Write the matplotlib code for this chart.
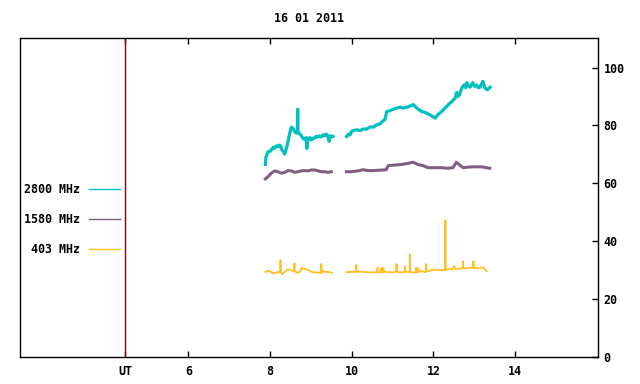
import matplotlib
matplotlib.use("Agg")
import matplotlib.pyplot as plt
import numpy as np

plt.rcParams['font.family'] = ['DejaVu Sans Mono']
plt.rcParams['font.weight'] = 'bold'
plt.rcParams['font.size'] = 8.4

TITLE = "16 01 2011"
UT_POS = 4.46
X_TICKS = [6, 8, 10, 12, 14]
Y_TICKS = [0, 20, 40, 60, 80, 100]
nan = np.nan

# 2800 MHz (hours UT / flux)
t2800 = [7.886, 7.900, 7.952, 8.000, 8.033, 8.080, 8.115, 8.160, 8.196, 8.237, 8.270, 8.294,
         8.330, 8.360, 8.401, 8.441, 8.482, 8.523, 8.564, 8.605, 8.645, 8.672, 8.678, 8.684,
         8.703, 8.740, 8.768, 8.810, 8.849, 8.890, 8.900, 8.931, 8.970, 9.013, 9.050, 9.094,
         9.130, 9.176, 9.210, 9.257, 9.300, 9.339, 9.380, 9.421, 9.450, 9.470, 9.502, 9.543,
         nan,
         9.878, 9.920, 9.959, 10.000, 10.041, 10.120, 10.204, 10.290, 10.367, 10.450, 10.531,
         10.610, 10.694, 10.760, 10.816, 10.857, 10.939, 11.020, 11.100, 11.184, 11.260, 11.347,
         11.428, 11.510, 11.592, 11.650, 11.714, 11.780, 11.837, 11.900, 11.959, 12.041, 12.122,
         12.204, 12.286, 12.367, 12.449, 12.530, 12.571, 12.600, 12.637, 12.694, 12.751, 12.790,
         12.816, 12.860, 12.898, 12.963, 13.010, 13.061, 13.100, 13.142, 13.208, 13.265, 13.322,
         13.387]
f2800 = [66.5, 69.0, 70.9, 71.0, 71.5, 72.5, 72.1, 73.0, 72.7, 73.2, 72.5, 71.5,
         71.0, 70.1, 72.1, 74.4, 77.3, 79.4, 79.0, 77.9, 77.3, 78.0, 85.6, 78.0,
         77.3, 77.0, 76.4, 75.5, 75.2, 75.8, 72.0, 75.0, 75.8, 75.0, 75.6, 75.6,
         76.2, 76.0, 76.4, 76.0, 76.8, 76.4, 77.0, 76.2, 74.5, 76.5, 76.0, 76.2,
         nan,
         76.2, 77.0, 76.7, 78.0, 78.2, 78.5, 78.2, 78.8, 78.7, 79.5, 79.4,
         80.2, 80.5, 81.5, 82.1, 84.8, 85.1, 85.6, 86.0, 86.3, 86.0, 86.3,
         86.7, 87.2, 86.0, 85.4, 84.8, 84.6, 84.2, 83.8, 83.3, 82.5, 83.9,
         84.8, 86.0, 87.2, 88.2, 89.4, 91.4, 90.0, 90.6, 92.9, 94.0, 93.0,
         94.8, 93.5, 93.2, 94.8, 93.5, 94.0, 93.0, 93.2, 95.2, 92.9, 92.3,
         93.2]

# 1580 MHz
t1580 = [7.886, 7.952, 8.033, 8.115, 8.196, 8.278, 8.360, 8.441, 8.523, 8.605, 8.686, 8.768,
         8.849, 8.931, 9.013, 9.094, 9.176, 9.257, 9.339, 9.421, 9.502,
         nan,
         9.870, 9.992, 10.155, 10.278, 10.400, 10.523, 10.645, 10.767, 10.849, 10.890, 11.053,
         11.217, 11.380, 11.502, 11.624, 11.747, 11.869, 12.033, 12.196, 12.359, 12.481, 12.563,
         12.645, 12.727, 12.849, 13.012, 13.175, 13.298, 13.379]
f1580 = [61.5, 62.3, 63.5, 64.3, 64.0, 63.5, 63.8, 64.4, 64.3, 63.8, 64.0, 64.3,
         64.4, 64.3, 64.6, 64.6, 64.3, 64.0, 64.0, 63.8, 64.0,
         nan,
         64.0, 64.0, 64.3, 64.7, 64.4, 64.4, 64.5, 64.6, 64.7, 66.1, 66.3,
         66.5, 66.9, 67.3, 66.5, 66.1, 65.4, 65.4, 65.4, 65.2, 65.4, 67.3,
         66.3, 65.4, 65.6, 65.7, 65.7, 65.4, 65.2]

# 403 MHz
t403 = [7.886, 7.968, 8.033, 8.098, 8.155, 8.218, 8.253, 8.257, 8.261, 8.294, 8.360, 8.425,
        8.490, 8.550, 8.594, 8.598, 8.602, 8.670, 8.727, 8.784, 8.848, 8.914, 8.970, 9.033,
        9.253, 9.257, 9.261, 9.298, 9.339, 9.421, 9.519,
        nan,
        9.870, 9.992, 10.110, 10.114, 10.118, 10.155, 10.318, 10.477, 10.629, 10.633, 10.637,
        10.723, 10.727, 10.731, 10.772, 10.776, 10.780, 10.890, 10.970, 11.060, 11.094, 11.098,
        11.102, 11.134, 11.216, 11.296, 11.300, 11.304, 11.380, 11.420, 11.424, 11.428, 11.502,
        11.580, 11.584, 11.588, 11.629, 11.633, 11.637, 11.706, 11.787, 11.821, 11.825, 11.829,
        11.910, 12.033, 12.155, 12.237, 12.290, 12.294, 12.298, 12.359, 12.441, 12.510, 12.514,
        12.518, 12.563, 12.645, 12.723, 12.727, 12.731, 12.808, 12.890, 12.977, 12.981, 12.985,
        13.053, 13.134, 13.225, 13.303]
f403 = [29.4, 29.8, 29.3, 28.8, 29.2, 29.4, 29.4, 33.5, 29.4, 28.6, 29.4, 30.2,
        30.2, 29.7, 29.6, 32.3, 29.6, 29.1, 29.4, 30.7, 30.5, 30.2, 29.8, 29.3,
        29.1, 32.1, 29.1, 29.8, 29.4, 29.4, 29.1,
        nan,
        29.3, 29.4, 29.4, 31.8, 29.5, 29.5, 29.4, 29.2, 29.3, 30.9, 29.3,
        29.3, 30.7, 29.3, 29.5, 30.9, 29.5, 29.3, 29.3, 29.3, 29.5, 32.1,
        29.8, 29.3, 29.3, 29.3, 31.2, 29.4, 29.4, 29.4, 35.5, 29.4, 29.2,
        29.2, 30.9, 29.5, 29.4, 30.6, 29.4, 29.7, 29.3, 29.4, 32.1, 29.6,
        29.8, 30.2, 30.0, 30.0, 30.1, 47.3, 30.2, 30.3, 30.4, 30.6, 31.4,
        30.6, 30.5, 30.4, 30.9, 33.1, 30.7, 30.5, 30.9, 30.8, 33.1, 30.9,
        30.6, 30.8, 30.9, 29.6]

fig = plt.figure(figsize=(6.4, 3.84), dpi=100)
ax = fig.add_axes([20 / 640, 1 - 357 / 384, 578 / 640, 319 / 384])

ax.plot(t2800, f2800, color='#00c0c0', lw=2.3, label='2800 MHz')
ax.plot(t1580, f1580, color='#806080', lw=2.2, label='1580 MHz')
ax.plot(t403, f403, color='#ffc020', lw=1.3, label='403 MHz')
ax.axvline(UT_POS, color='#8b0000', lw=1)

ax.set_xlim(1.88, 16.03)
ax.set_ylim(0, 110.2)
ax.set_xticks([UT_POS] + X_TICKS)
ax.set_xticklabels(['UT'] + [str(v) for v in X_TICKS])
ax.set_yticks(Y_TICKS)
ax.tick_params(axis='x', direction='in', length=4, top=True, bottom=True, pad=6, width=1)
ax.tick_params(axis='y', direction='in', length=4, left=False, right=True,
               labelleft=False, labelright=True, pad=4, width=1)
for s in ax.spines.values():
    s.set_linewidth(1)

leg = ax.legend(markerfirst=False, frameon=False, loc='upper right',
                bbox_to_anchor=(120 / 640, 1 - 183 / 384), bbox_transform=fig.transFigure,
                borderaxespad=0, borderpad=0, handlelength=2.7, handletextpad=0.7,
                labelspacing=1.45)
for ln in leg.get_lines():
    ln.set_linewidth(1)

fig.text(309 / 640, 1 - 19 / 384, TITLE, ha='center', va='center')

fig.savefig('out.png', dpi=100)
